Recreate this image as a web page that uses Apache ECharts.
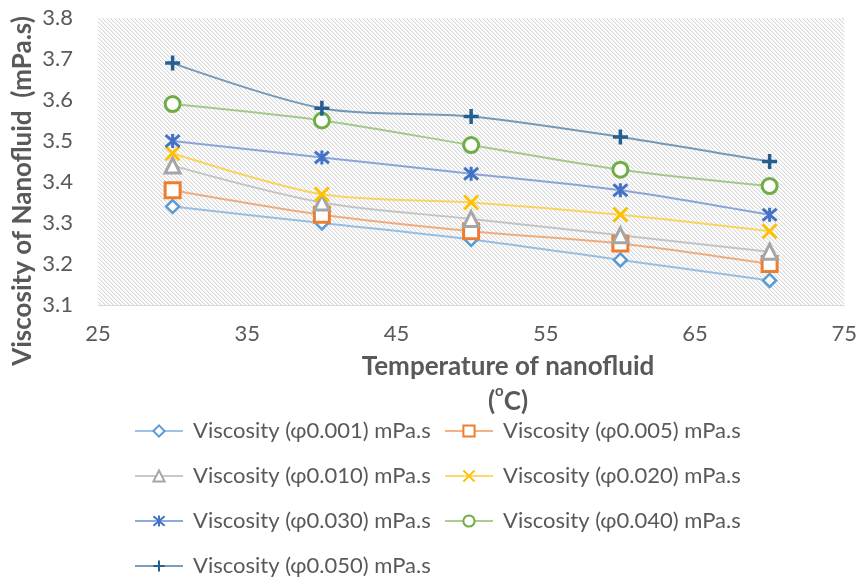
<!DOCTYPE html>
<html>
<head>
<meta charset="utf-8">
<script src="https://cdn.jsdelivr.net/npm/echarts@6/dist/echarts.min.js"></script>
<style>
  html, body { margin: 0; padding: 0; background: #fff; }
  #chart { width: 860px; height: 577px; }
</style>
</head>
<body>
<div id="chart"></div>
<script>
// Temperatures (°C) and measured viscosities (mPa.s) per volume fraction
const temperatures = [30, 40, 50, 60, 70];
const visc001 = [3.34, 3.30, 3.26, 3.21, 3.16];
const visc005 = [3.38, 3.32, 3.28, 3.25, 3.20];
const visc010 = [3.44, 3.35, 3.31, 3.27, 3.23];
const visc020 = [3.47, 3.37, 3.35, 3.32, 3.28];
const visc030 = [3.50, 3.46, 3.42, 3.38, 3.32];
const visc040 = [3.59, 3.55, 3.49, 3.43, 3.39];
const visc050 = [3.69, 3.58, 3.56, 3.51, 3.45];

const seriesNames = [
  'Viscosity (φ0.001) mPa.s',
  'Viscosity (φ0.005) mPa.s',
  'Viscosity (φ0.010) mPa.s',
  'Viscosity (φ0.020) mPa.s',
  'Viscosity (φ0.030) mPa.s',
  'Viscosity (φ0.040) mPa.s',
  'Viscosity (φ0.050) mPa.s'
];
const seriesValues = [visc001, visc005, visc010, visc020, visc030, visc040, visc050];

const xTitle = 'Temperature of nanofluid';
const yTitle = 'Viscosity of Nanofluid  (mPa.s)';

const FONT = 'Lato, "Open Sans", sans-serif';
const TEXT = '#595959';

// Diagonal hatch fill for the plot area
function hatchPattern() {
  const n = 4;
  const c = document.createElement('canvas');
  c.width = n; c.height = n;
  const ctx = c.getContext('2d');
  ctx.fillStyle = '#ffffff';
  ctx.fillRect(0, 0, n, n);
  for (let y = 0; y < n; y++) {
    ctx.fillStyle = '#d9d9d9';
    ctx.fillRect(y % n, y, 1, 1);
    ctx.fillStyle = '#f0f0f0';
    ctx.fillRect((y + 1) % n, y, 1, 1);
  }
  return { image: c, repeat: 'repeat' };
}

const CROSS = 'path://M0,0L10,10M10,0L0,10';
const PLUS = 'path://M5,0L5,10M0,5L10,5';
const STAR = 'path://M0,0L10,10M10,0L0,10M5,-1L5,11';

const styles = [
  { color: '#5B9BD5', symbol: 'diamond', size: 13, fill: '#fff', bw: 2.5 },
  { color: '#ED7D31', symbol: 'rect', size: 15, fill: '#fff', bw: 3 },
  { color: '#A5A5A5', symbol: 'triangle', size: 15, fill: '#fff', bw: 3 },
  { color: '#FFC000', symbol: CROSS, size: 14, fill: 'none', bw: 3 },
  { color: '#4472C4', symbol: STAR, size: 14, fill: 'none', bw: 3 },
  { color: '#70AD47', symbol: 'circle', size: 15, fill: '#fff', bw: 3 },
  { color: '#255E91', symbol: PLUS, size: 15, fill: 'none', bw: 3.5 }
];

const series = seriesNames.map((name, i) => {
  const s = styles[i];
  return {
    name: name,
    type: 'line',
    smooth: 0.3,
    data: temperatures.map((t, j) => [t, seriesValues[i][j]]),
    symbol: s.symbol,
    symbolSize: s.size,
    showAllSymbol: true,
    lineStyle: { color: s.color, width: 2, opacity: 0.6 },
    itemStyle: { color: s.fill === 'none' ? s.color : s.fill, borderColor: s.color, borderWidth: s.bw, opacity: 1 },
    emphasis: { disabled: true },
    z: 2 + i
  };
});

// Legend laid out in two columns, four rows
const legendCols = [134, 444];
const legendRows = [420, 465, 510, 555];
const legends = seriesNames.map((name, i) => ({
  data: [name],
  left: legendCols[i % 2],
  top: legendRows[Math.floor(i / 2)],
  padding: 0,
  itemWidth: 48,
  itemHeight: 14,
  itemGap: 0,
  selectedMode: false,
  textStyle: { fontFamily: FONT, fontSize: 22, color: TEXT, padding: [0, 0, 0, 5] }
}));

const chart = echarts.init(document.getElementById('chart'), null, { renderer: 'canvas' });
chart.setOption({
  animation: false,
  backgroundColor: '#ffffff',
  grid: {
    left: 98, right: 12, top: 18, bottom: 272,
    show: true,
    backgroundColor: hatchPattern(),
    borderWidth: 0
  },
  legend: legends,
  graphic: [
    {
      type: 'text',
      x: 508, y: 384,
      style: {
        text: '{b|' + xTitle + '}\n{b|(}{s|o}{b|C)}',
        align: 'center', verticalAlign: 'middle',
        rich: {
          b: { fontFamily: FONT, fontSize: 26, fontWeight: 'bold', fill: TEXT, lineHeight: 35 },
          s: { fontFamily: FONT, fontSize: 15, fontWeight: 'bold', fill: TEXT, verticalAlign: 'top', lineHeight: 35 }
        }
      }
    },
    {
      type: 'text',
      x: 23, y: 191,
      rotation: Math.PI / 2,
      style: {
        text: yTitle,
        align: 'center', verticalAlign: 'middle',
        fontFamily: FONT, fontSize: 26, fontWeight: 'bold', fill: TEXT
      }
    }
  ],
  xAxis: {
    type: 'value',
    min: 25, max: 75, interval: 10,
    axisLine: { show: true, lineStyle: { color: '#d9d9d9', width: 1 } },
    axisTick: { show: false },
    splitLine: { show: false },
    axisLabel: { fontFamily: FONT, fontSize: 22, color: TEXT, margin: 18 }
  },
  yAxis: {
    type: 'value',
    min: 3.1, max: 3.8, interval: 0.1,
    axisLine: { show: false },
    axisTick: { show: false },
    splitLine: { show: false },
    axisLabel: {
      fontFamily: FONT, fontSize: 22, color: TEXT, margin: 25,
      formatter: v => v.toFixed(1)
    }
  },
  series: series
});
</script>
</body>
</html>
